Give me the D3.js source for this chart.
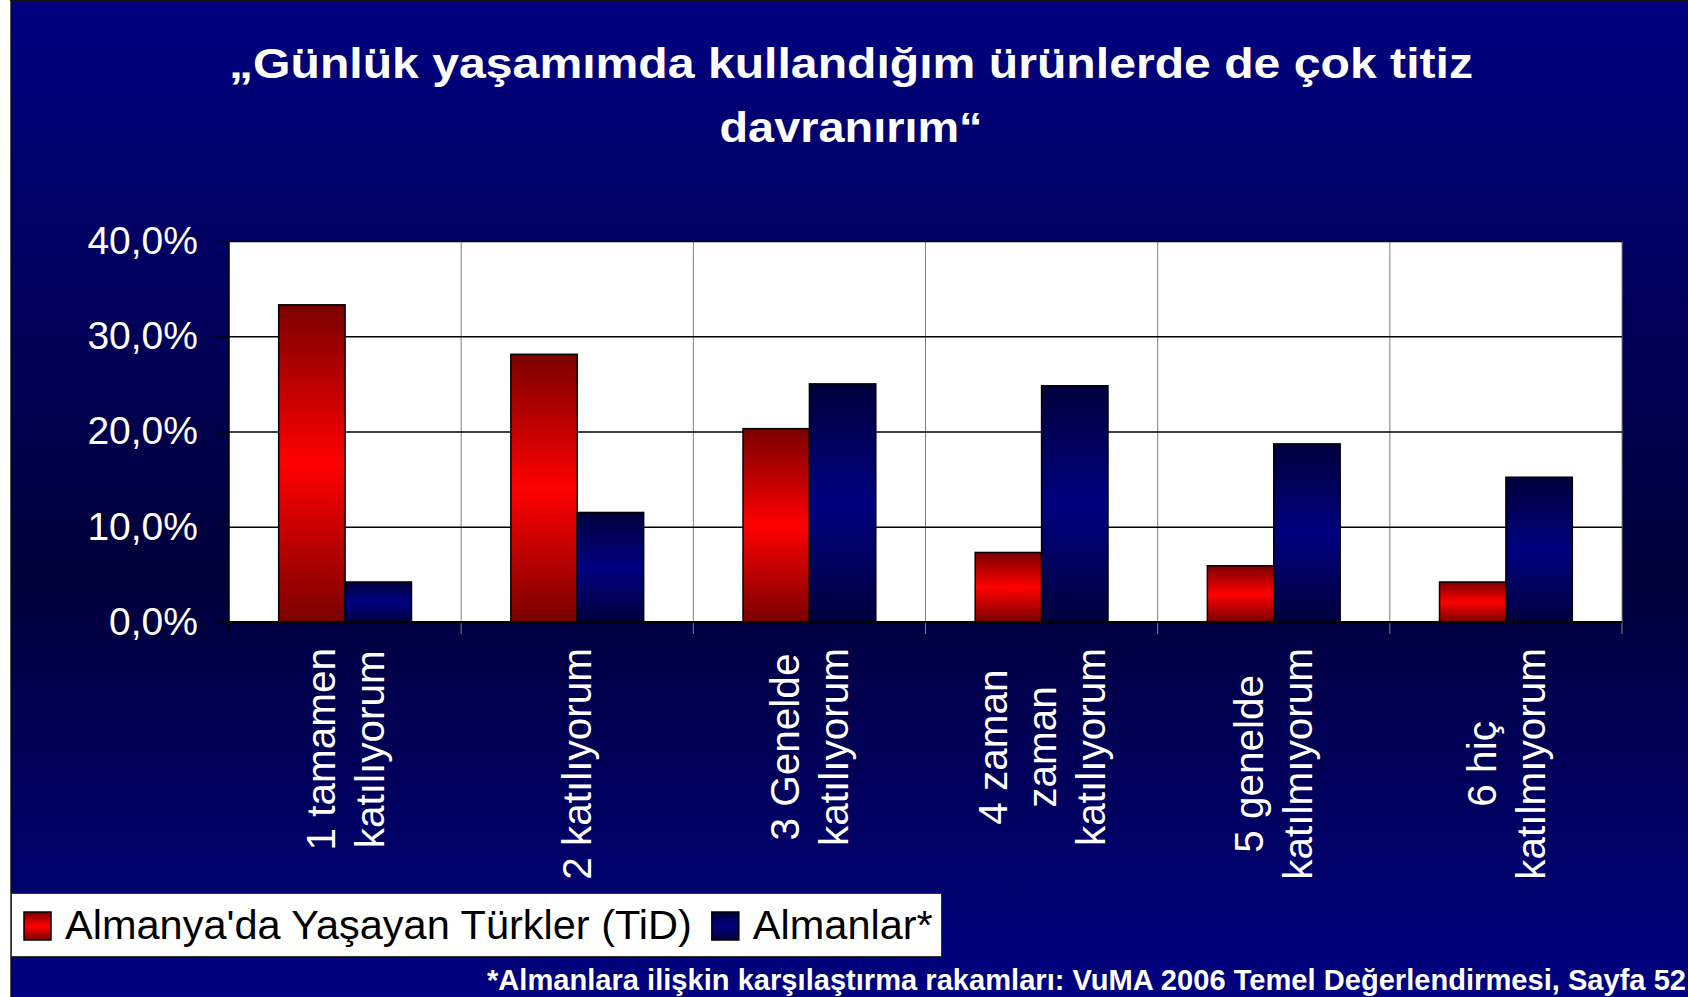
<!DOCTYPE html>
<html>
<head>
<meta charset="utf-8">
<script src="https://cdn.jsdelivr.net/npm/d3@7"></script>
<style>
  html, body { margin: 0; padding: 0; background: #fff; }
  svg { display: block; font-family: "Liberation Sans", Arial, sans-serif; }
</style>
</head>
<body>
<svg id="chart" width="1688" height="997"></svg>
<script>
// data
const categories = ["c1", "c2", "c3", "c4", "c5", "c6"];
const categoryLines = [
    ["1 tamamen", "katılıyorum"],
    ["2 katılıyorum"],
    ["3 Genelde", "katılıyorum"],
    ["4 zaman", "zaman", "katılıyorum"],
    ["5 genelde", "katılmıyorum"],
    ["6 hiç", "katılmıyorum"]
];
const seriesNames = ["Almanya'da Yaşayan Türkler (TiD)", "Almanlar*"];
const turkValues = [33.3, 28.1, 20.3, 7.3, 5.9, 4.2];
const germanValues = [4.2, 11.5, 25.0, 24.8, 18.7, 15.2];
const yTicks = [0, 10, 20, 30, 40];
const titleLines = ["„Günlük yaşamımda kullandığım ürünlerde de çok titiz", "davranırım“"];
const footnote = "*Almanlara ilişkin karşılaştırma rakamları: VuMA 2006 Temel Değerlendirmesi, Sayfa 52";

const svg = d3.select("#chart");
const W = 1688, H = 997;
const plot = { left: 229, right: 1622, top: 241, bottom: 622 };

// gradients
const defs = svg.append("defs");
function vGrad(id, stops) {
    const g = defs.append("linearGradient").attr("id", id)
        .attr("x1", 0).attr("y1", 0).attr("x2", 0).attr("y2", 1);
    stops.forEach(s => g.append("stop").attr("offset", s[0]).attr("stop-color", s[1]));
}
vGrad("bg", [[0, "#000080"], [0.58, "#00003a"], [1, "#000080"]]);
vGrad("redBar", [[0, "#7a0000"], [0.5, "#ff0000"], [1, "#7a0000"]]);
vGrad("blueBar", [[0, "#00003c"], [0.5, "#000080"], [1, "#00003c"]]);
const fills = ["url(#redBar)", "url(#blueBar)"];

// slide background
svg.append("rect").attr("width", W).attr("height", H).attr("fill", "#fff");
svg.append("rect").attr("x", 10).attr("y", 0).attr("width", W - 10).attr("height", H).attr("fill", "url(#bg)");
svg.append("line").attr("x1", 10.5).attr("x2", 10.5).attr("y1", 0).attr("y2", H).attr("stroke", "#555");
svg.append("line").attr("x1", 10).attr("x2", W).attr("y1", 0.5).attr("y2", 0.5).attr("stroke", "#111");

// title
svg.selectAll(".title").data(titleLines).enter()
    .append("text")
    .attr("class", "title")
    .attr("x", 851)
    .attr("y", (d, i) => 78 + i * 63.5)
    .attr("text-anchor", "middle")
    .attr("fill", "#fff")
    .attr("font-weight", "bold")
    .attr("font-size", 42)
    .attr("textLength", (d, i) => i === 0 ? 1244 : 263)
    .attr("lengthAdjust", "spacingAndGlyphs")
    .text(d => d);

// scales
const y = d3.scaleLinear().domain([0, 40]).range([plot.bottom, plot.top]);
const x0 = d3.scaleBand().domain(categories).range([plot.left, plot.right])
    .paddingInner(0.428).paddingOuter(0.214);
const x1 = d3.scaleBand().domain([0, 1]).range([0, x0.bandwidth()]);
const step = x0.step();
const boundary = c => x0(c) - step * x0.paddingInner() / 2;

// plot area
svg.append("rect")
    .attr("x", plot.left).attr("y", plot.top)
    .attr("width", plot.right - plot.left).attr("height", plot.bottom - plot.top)
    .attr("fill", "#fff");

// vertical gridlines / category ticks
const vLines = categories.slice(1).map(boundary).concat([plot.right]);
svg.selectAll(".vgrid").data(vLines).enter()
    .append("line")
    .attr("x1", d => d).attr("x2", d => d)
    .attr("y1", plot.top).attr("y2", plot.bottom + 12)
    .attr("stroke", "#808080").attr("stroke-width", 1);

// horizontal gridlines
const grid = svg.append("g")
    .attr("transform", `translate(${plot.left},0)`)
    .call(d3.axisLeft(y).tickValues(yTicks).tickSize(-(plot.right - plot.left)).tickFormat(""));
grid.select(".domain").remove();
grid.selectAll("line").attr("stroke", "#000").attr("stroke-width", 1.5);

// y axis
const yAxis = svg.append("g")
    .attr("transform", `translate(${plot.left},0)`)
    .call(d3.axisLeft(y).tickValues(yTicks).tickSize(12).tickPadding(19)
        .tickFormat(d => d.toFixed(1).replace(".", ",") + "%"));
yAxis.select(".domain").attr("stroke", "#000").attr("stroke-width", 1.5)
    .attr("d", `M0,${plot.top}V${plot.bottom + 12}`);
yAxis.selectAll("line").attr("stroke", "#000").attr("stroke-width", 1.5);
yAxis.selectAll("text")
    .attr("fill", "#fff")
    .attr("font-size", 39)
    .attr("font-family", "'Liberation Sans', Arial, sans-serif");

// bars
const rows = categories.map((c, i) => ({ cat: c, vals: [turkValues[i], germanValues[i]] }));
const groups = svg.selectAll(".grp").data(rows).enter()
    .append("g")
    .attr("class", "grp")
    .attr("transform", d => `translate(${x0(d.cat)},0)`);
groups.selectAll("rect")
    .data(d => d.vals.map((v, k) => ({ k: k, v: v })))
    .enter()
    .append("rect")
    .attr("x", d => x1(d.k))
    .attr("y", d => y(d.v))
    .attr("width", x1.bandwidth())
    .attr("height", d => y(0) - y(d.v))
    .attr("fill", d => fills[d.k])
    .attr("stroke", "#000")
    .attr("stroke-width", 1.5);

// baseline
svg.append("line")
    .attr("x1", plot.left - 12).attr("x2", plot.right)
    .attr("y1", y(0)).attr("y2", y(0))
    .attr("stroke", "#000").attr("stroke-width", 2);

// rotated category labels
const labelTop = 648, lineGap = 49;
rows.forEach((r, i) => {
    const lines = categoryLines[i];
    const cx = x0(r.cat) + x0.bandwidth() / 2;
    const g = svg.append("g").attr("transform", `translate(${cx},${labelTop}) rotate(-90)`);
    const texts = g.selectAll("text").data(lines).enter()
        .append("text")
        .attr("y", (d, j) => (j - (lines.length - 1) / 2) * lineGap)
        .attr("dy", "0.35em")
        .attr("text-anchor", "middle")
        .attr("fill", "#fff")
        .attr("font-size", 40.5)
        .text(d => d);
    let maxLen = 0;
    texts.each(function () { maxLen = Math.max(maxLen, this.getComputedTextLength()); });
    texts.attr("x", -maxLen / 2);
});

// legend
const legend = svg.append("g");
legend.append("rect")
    .attr("x", 11.5).attr("y", 893.5).attr("width", 930).attr("height", 63)
    .attr("fill", "#fff").attr("stroke", "#333").attr("stroke-width", 1);
let lx = 24;
seriesNames.forEach((name, k) => {
    legend.append("rect")
        .attr("x", lx).attr("y", 912).attr("width", 27).attr("height", 28)
        .attr("fill", fills[k]).attr("stroke", "#000").attr("stroke-width", 1.5);
    const t = legend.append("text")
        .attr("x", lx + 41).attr("y", 939)
        .attr("fill", "#000").attr("font-size", 41.5)
        .text(name);
    lx = lx + 41 + t.node().getComputedTextLength() + 20;
});

// footnote
svg.append("text")
    .attr("x", 487).attr("y", 990)
    .attr("fill", "#fff").attr("font-weight", "bold").attr("font-size", 29)
    .attr("textLength", 1199).attr("lengthAdjust", "spacingAndGlyphs")
    .text(footnote);
</script>
</body>
</html>
